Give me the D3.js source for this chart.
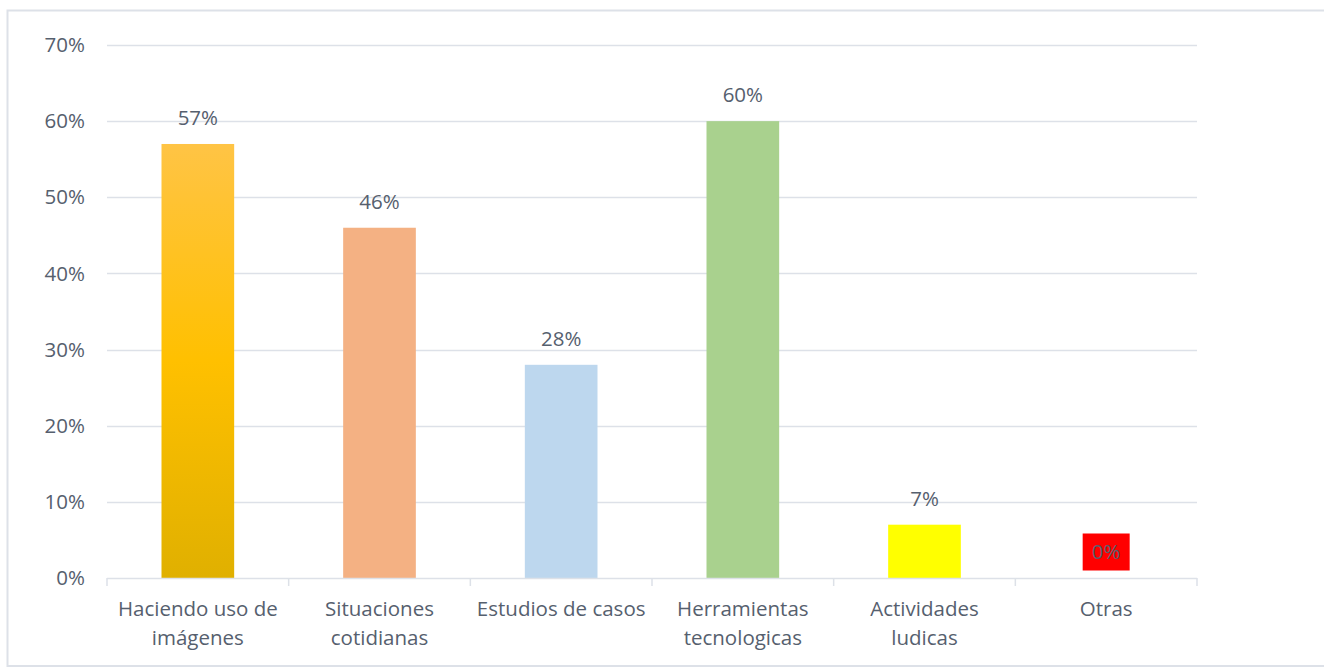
<!DOCTYPE html>
<html>
<head>
<meta charset="utf-8">
<script src="https://cdn.jsdelivr.net/npm/d3@7"></script>
<style>
  body { margin:0; background:#fff; }
  svg { display:block; font-family:"Open Sans", "Noto Sans", sans-serif; }
</style>
</head>
<body>
<svg id="chart" width="1324" height="668"></svg>
<script>
// data
var categories = [["Haciendo uso de","imágenes"],["Situaciones","cotidianas"],["Estudios de casos"],["Herramientas","tecnologicas"],["Actividades","ludicas"],["Otras"]];
var values = [57, 46, 28, 60, 7, 0];
var barColors = ["url(#gold)", "#F4B183", "#BDD7EE", "#A9D18E", "#FFFF00", "#FF0000"];
var yTicks = [0, 10, 20, 30, 40, 50, 60, 70];

var svg = d3.select("#chart"),
    textColor = "#56606e",
    gridColor = "#dde1e8",
    plotLeft = 107, plotRight = 1197, plotTop = 45, plotBottom = 578,
    fontSize = "20.5px";

// frame
svg.append("rect")
    .attr("x", 7.5).attr("y", 10.5)
    .attr("width", 1330).attr("height", 655.5)
    .attr("fill", "none").attr("stroke", "#dde1e8").attr("stroke-width", 2);

var defs = svg.append("defs");
var grad = defs.append("linearGradient").attr("id","gold")
    .attr("x1",0).attr("y1",0).attr("x2",0).attr("y2",1);
grad.append("stop").attr("offset","0%").attr("stop-color","#FFC445");
grad.append("stop").attr("offset","50%").attr("stop-color","#FFC000");
grad.append("stop").attr("offset","100%").attr("stop-color","#E0B000");

var x = d3.scaleBand().domain(d3.range(categories.length)).range([plotLeft, plotRight]);
var y = d3.scaleLinear().domain([0, 70]).range([plotBottom, plotTop]);

// gridlines
svg.append("g").selectAll("line").data(yTicks.slice(1)).enter().append("line")
    .attr("x1", plotLeft).attr("x2", plotRight)
    .attr("y1", function(d){ return Math.round(y(d)) + 0.5; })
    .attr("y2", function(d){ return Math.round(y(d)) + 0.5; })
    .attr("stroke", gridColor).attr("stroke-width", 1.5);

// y labels
svg.append("g").selectAll("text").data(yTicks).enter().append("text")
    .attr("x", 85).attr("y", function(d){ return y(d); })
    .attr("dy", "0.35em").attr("text-anchor","end")
    .attr("fill", textColor).style("font-size", fontSize)
    .text(function(d){ return d + "%"; });

// bars
var bw = x.bandwidth() * 0.4;
svg.append("g").selectAll("rect").data(values).enter().append("rect")
    .attr("x", function(d,i){ return x(i) + (x.bandwidth() - bw)/2; })
    .attr("y", function(d){ return y(d); })
    .attr("width", bw)
    .attr("height", function(d){ return plotBottom - y(d); })
    .attr("fill", function(d,i){ return barColors[i]; });

// x axis line and ticks
svg.append("line").attr("x1", plotLeft).attr("x2", plotRight)
    .attr("y1", plotBottom + 0.5).attr("y2", plotBottom + 0.5)
    .attr("stroke", gridColor).attr("stroke-width", 1.5);
svg.append("g").selectAll("line").data(d3.range(categories.length + 1)).enter().append("line")
    .attr("x1", function(i){ return plotLeft + i * x.step(); })
    .attr("x2", function(i){ return plotLeft + i * x.step(); })
    .attr("y1", plotBottom).attr("y2", plotBottom + 8)
    .attr("stroke", gridColor).attr("stroke-width", 1.5);

// category labels
svg.append("g").selectAll("text").data(categories).enter().append("text")
    .attr("text-anchor","middle").attr("fill", textColor).style("font-size", fontSize)
    .attr("transform", function(d,i){ return "translate(" + (x(i) + x.bandwidth()/2) + ",0)"; })
    .each(function(d){
        var t = d3.select(this);
        d.forEach(function(line, k){
            t.append("tspan").attr("x", 0).attr("y", 616 + k * 29).text(line);
        });
    });

// data labels
var lab = svg.append("g").selectAll("g").data(values).enter().append("g")
    .attr("transform", function(d,i){
        var cy = d === 0 ? 552 : y(d) - 26;
        return "translate(" + (x(i) + x.bandwidth()/2) + "," + cy + ")";
    });
lab.filter(function(d){ return d === 0; }).append("rect")
    .attr("x", -23.5).attr("y", -18.5).attr("width", 47).attr("height", 37)
    .attr("fill", "#FF0000");
lab.append("text")
    .attr("text-anchor","middle").attr("dy","0.35em")
    .attr("fill", textColor).style("font-size", fontSize)
    .text(function(d){ return d + "%"; });
</script>
</body>
</html>
